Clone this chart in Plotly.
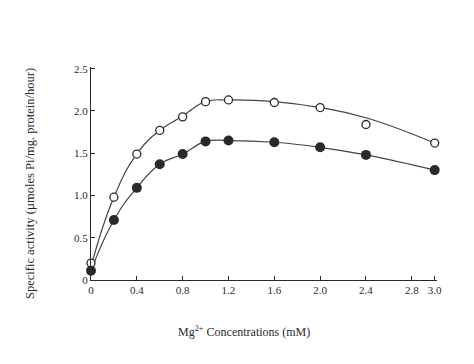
import plotly.graph_objects as go

# Mg2+ concentration (mM)
conc = [0, 0.2, 0.4, 0.6, 0.8, 1.0, 1.2, 1.6, 2.0, 2.4, 3.0]
# open circles
open_vals = [0.20, 0.98, 1.49, 1.77, 1.93, 2.11, 2.13, 2.10, 2.04, 1.84, 1.62]
# fitted curve through open circles
open_curve = [0.16, 0.98, 1.49, 1.77, 1.94, 2.11, 2.13, 2.11, 2.04, 1.92, 1.62]
# filled circles
filled_vals = [0.11, 0.71, 1.09, 1.37, 1.49, 1.64, 1.65, 1.63, 1.57, 1.48, 1.30]

x_ticks = [0, 0.4, 0.8, 1.2, 1.6, 2.0, 2.4, 2.8, 3.0]
x_ticktext = ["0", "0.4", "0.8", "1.2", "1.6", "2.0", "2.4", "2.8", "3.0"]
y_ticks = [0, 0.5, 1.0, 1.5, 2.0, 2.5]
y_ticktext = ["0", "0.5", "1.0", "1.5", "2.0", "2.5"]

ink = "#2a2a2a"
serif = "Liberation Serif"

fig = go.Figure()
fig.add_trace(go.Scatter(x=conc, y=open_curve, mode="lines", line=dict(color="#444", width=1.2, shape="spline", smoothing=1.3), cliponaxis=False, hoverinfo="skip"))
fig.add_trace(go.Scatter(x=conc, y=filled_vals, mode="lines", line=dict(color="#444", width=1.2, shape="spline", smoothing=1.3), cliponaxis=False, hoverinfo="skip"))
fig.add_trace(go.Scatter(x=conc, y=open_vals, mode="markers", marker=dict(symbol="circle", size=8, color="white", line=dict(color=ink, width=1.3)), cliponaxis=False))
fig.add_trace(go.Scatter(x=conc, y=filled_vals, mode="markers", marker=dict(symbol="circle", size=10, color=ink, line=dict(color=ink, width=0)), cliponaxis=False))

L, R, T, B = 83, 45, 59, 92
W, H = 474, 364
pw, ph = W - L - R, H - T - B

fig.update_layout(
    width=W, height=H,
    margin=dict(l=L, r=R, t=T, b=B),
    paper_bgcolor="white", plot_bgcolor="white",
    showlegend=False,
    font=dict(family=serif, size=11, color=ink),
    xaxis=dict(range=[0, 3.02], tickvals=x_ticks, ticktext=x_ticktext, ticks="inside", ticklen=4,
               tickcolor=ink, showline=True, linecolor=ink, linewidth=1.2, showgrid=False, zeroline=False,
               tickfont=dict(family=serif, size=11, color=ink)),
    yaxis=dict(range=[0, 2.52], tickvals=y_ticks, ticktext=y_ticktext, ticks="inside", ticklen=4,
               tickcolor=ink, showline=True, linecolor=ink, linewidth=1.2, showgrid=False, zeroline=False,
               tickfont=dict(family=serif, size=11, color=ink)),
    annotations=[
        dict(text="Specific activity (\u00b5moles Pi/mg. protein/hour)", xref="paper", yref="paper",
             x=(22 - L) / pw, y=(H - B - 176) / ph, xanchor="center", yanchor="middle",
             textangle=-90, showarrow=False, font=dict(family=serif, size=12.5, color=ink)),
        dict(text="Mg<sup>2+</sup> Concentrations (mM)", xref="paper", yref="paper",
             x=(236 - L) / pw, y=(H - B - 323) / ph, xanchor="center", yanchor="middle",
             showarrow=False, font=dict(family=serif, size=12, color=ink)),
    ],
)

fig.write_html("out.html")
